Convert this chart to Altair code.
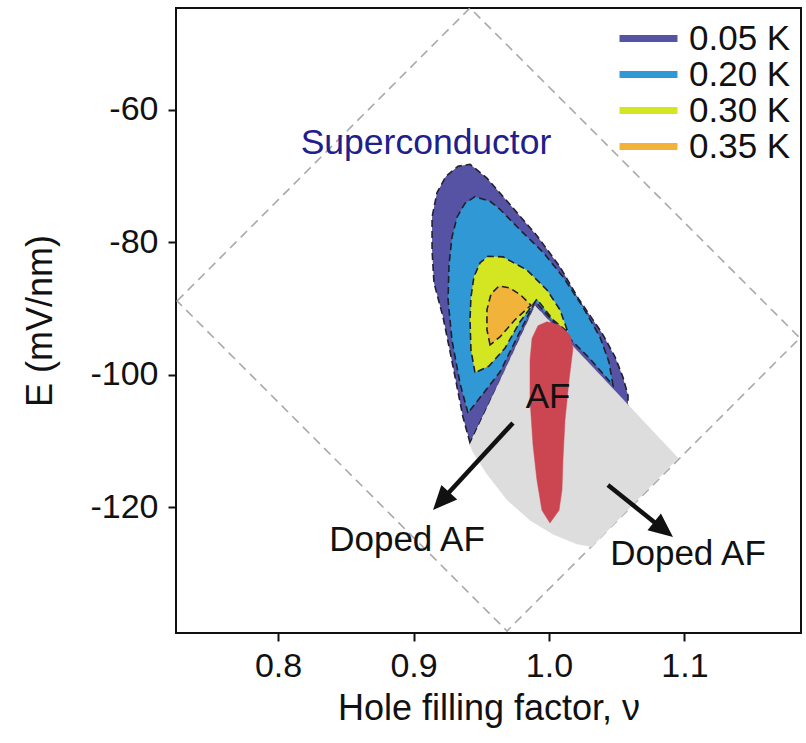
import altair as alt
import pandas as pd

# ---------------- data ----------------
levels = ["0.05 K", "0.20 K", "0.30 K", "0.35 K"]
level_colors = ["#5652a4", "#2f98d5", "#d3e621", "#f2b33a"]

nu_005 = [0.9417, 0.9365, 0.9292, 0.9218, 0.9151, 0.9137, 0.9137, 0.9173, 0.9240, 0.9328, 0.9417, 0.9542,
          0.9734, 0.9911, 1.0081, 1.0214, 1.0391, 1.0487, 1.0546, 1.0583, 1.0583, 1.0280, 0.9897, 0.9661]
E_005 = [-110.3, -106.4, -98.8, -91.3, -86.1, -81.2, -76.2, -72.5, -70.0, -68.5, -68.2, -70.3,
         -74.8, -79.0, -83.7, -88.4, -93.7, -97.3, -100.4, -103.1, -104.9, -98.1, -89.6, -100.0]

nu_020 = [0.9402, 0.9343, 0.9284, 0.9255, 0.9262, 0.9284, 0.9321, 0.9380, 0.9454, 0.9565, 0.9638,
          0.9786, 0.9956, 1.0103, 1.0251, 1.0376, 1.0443, 1.0472, 1.0303, 1.0081, 0.9897, 0.9638]
E_020 = [-105.8, -101.3, -94.8, -88.7, -83.4, -79.2, -76.2, -74.1, -73.1, -73.8, -75.0,
         -78.1, -81.5, -85.2, -89.8, -94.3, -98.1, -101.6, -97.6, -93.1, -88.9, -99.6]

nu_030 = [0.9454, 0.9424, 0.9417, 0.9424, 0.9446, 0.9491, 0.9550, 0.9661, 0.9838, 0.9985, 1.0081,
          1.0140, 1.0030, 0.9911, 0.9786, 0.9675, 0.9557]
E_030 = [-99.7, -96.3, -91.7, -88.3, -85.2, -83.1, -82.1, -82.2, -84.2, -87.2, -90.2,
         -93.6, -91.7, -88.6, -92.0, -96.0, -98.7]

nu_035 = [0.9565, 0.9542, 0.9542, 0.9572, 0.9631, 0.9712, 0.9793, 0.9867, 0.9749, 0.9638]
E_035 = [-95.5, -93.2, -90.2, -87.8, -86.6, -86.9, -88.0, -89.5, -91.7, -94.3]

# antiferromagnet / doped AF region (grey) and AF core (red)
nu_af = [0.9897, 0.9417, 0.9439, 0.9542, 0.9690, 0.9860, 1.0030, 1.0207, 1.0317, 1.0952]
E_af = [-89.6, -110.6, -111.7, -115.0, -118.9, -122.0, -124.1, -125.6, -126.0, -112.6]

nu_red = [0.9985, 1.0074, 1.0155, 1.0177, 1.0148, 1.0118, 1.0103, 1.0096, 1.0074, 1.0007, 0.9948,
          0.9911, 0.9882, 0.9860, 0.9860, 0.9875, 0.9919]
E_red = [-92.0, -92.5, -94.0, -96.0, -100.8, -106.9, -112.9, -117.4, -120.5, -122.4, -120.5,
         -115.9, -110.6, -103.8, -97.8, -94.5, -92.6]

# accessible gate region (dashed diamond)
nu_gate = [0.7255, 0.9417, 1.1852, 0.9690]
E_gate = [-88.87, -44.58, -94.46, -138.74]

# arrows: tail, shaft end, tip
arrow_left_nu = [0.9734, 0.9203]
arrow_left_E = [-107.3, -119.09]
arrow_left_tip = (0.9144, -120.45)
arrow_right_nu = [1.0435, 1.0849]
arrow_right_E = [-116.67, -123.47]
arrow_right_tip = (1.0915, -124.53)

labels_text = ["Superconductor", "AF", "Doped AF", "Doped AF"]
labels_nu = [0.9092, 0.9993, 0.8952, 1.1026]
labels_E = [-65.0, -103.4, -125.0, -127.1]

x_ticks = [0.8, 0.9, 1.0, 1.1]
y_ticks = [-60, -80, -100, -120]

# ---------------- tables ----------------
def poly(nu, E, name):
    return pd.DataFrame({"nu": nu, "E": E, "i": list(range(len(nu))), "level": name})

contours = pd.concat([
    poly(nu_005, E_005, levels[0]),
    poly(nu_020, E_020, levels[1]),
    poly(nu_030, E_030, levels[2]),
    poly(nu_035, E_035, levels[3]),
], ignore_index=True)

af_df = poly(nu_af, E_af, "AF")
red_df = poly(nu_red, E_red, "AFcore")
gate_df = poly(nu_gate, E_gate, "gate")
arrows_df = pd.concat([
    pd.DataFrame({"nu": arrow_left_nu, "E": arrow_left_E, "i": [0, 1], "a": "left"}),
    pd.DataFrame({"nu": arrow_right_nu, "E": arrow_right_E, "i": [0, 1], "a": "right"}),
], ignore_index=True)
tipL = pd.DataFrame({"nu": [arrow_left_tip[0]], "E": [arrow_left_tip[1]]})
tipR = pd.DataFrame({"nu": [arrow_right_tip[0]], "E": [arrow_right_tip[1]]})
text_df = pd.DataFrame({"t": labels_text, "nu": labels_nu, "E": labels_E})

FONT = "Liberation Sans"
xs = alt.Scale(domain=[0.7247, 1.186], nice=False, zero=False)
ys = alt.Scale(domain=[-139.04, -44.585], nice=False, zero=False)

X = alt.X("nu:Q", scale=xs, axis=alt.Axis(values=x_ticks, format=".1f", title="Hole filling factor, ν",
                                          titleFontSize=36, labelPadding=8, titlePadding=8))
Y = alt.Y("E:Q", scale=ys, axis=alt.Axis(values=y_ticks, labelExpr="toString(datum.value)",
                                          labelPadding=10,
                                          title="E (mV/nm)", titleFontSize=36,
                                          titleX=-136, titleY=312.5, titleAngle=270,
                                          titleAlign="center", titleBaseline="middle"))
O = alt.Order("i:Q")

gate = alt.Chart(gate_df).mark_line(
    interpolate="linear-closed", stroke="#a9a9a9", strokeDash=[9, 6], strokeWidth=1.6, clip=True
).encode(x=X, y=Y, order=O)

fill_scale = alt.Scale(domain=levels, range=level_colors)
legend = alt.Legend(
    title=None, orient="none", legendX=455, legendY=13,
    symbolType="M-2.07,-0.25H2.07V0.25H-2.07Z", symbolSize=784, symbolStrokeWidth=0,
    symbolOpacity=1, labelFont=FONT, labelFontSize=35, labelColor="#111111",
    labelOffset=23, rowPadding=0, padding=0,
)

layers = [gate]
for lv in levels:
    layers.append(
        alt.Chart(contours).transform_filter(alt.datum.level == lv).mark_line(
            interpolate="linear-closed", stroke="#20202e", strokeDash=[7, 4], strokeWidth=1.6,
            fillOpacity=1, clip=True
        ).encode(x=X, y=Y, order=O,
                 fill=alt.Fill("level:N", scale=fill_scale, legend=legend))
    )

af = alt.Chart(af_df).mark_line(
    interpolate="linear-closed", fill="#dddddd", stroke="#dddddd", strokeWidth=0.5, clip=True
).encode(x=X, y=Y, order=O)
red = alt.Chart(red_df).mark_line(
    interpolate="linear-closed", fill="#cc4652", stroke="#cc4652", strokeWidth=0.5, clip=True
).encode(x=X, y=Y, order=O)

shafts = alt.Chart(arrows_df).mark_line(stroke="#111111", strokeWidth=4.5).encode(
    x=X, y=Y, order=O, detail="a:N")
HEAD = "M0,0L0.85,1.9L-0.85,1.9Z"
headL = alt.Chart(tipL).mark_point(shape=HEAD, filled=True, size=640, color="#111111",
                                   opacity=1, strokeWidth=0, angle=222.6).encode(x=X, y=Y)
headR = alt.Chart(tipR).mark_point(shape=HEAD, filled=True, size=640, color="#111111",
                                   opacity=1, strokeWidth=0, angle=128.7).encode(x=X, y=Y)

sc_text = alt.Chart(text_df).transform_filter(alt.datum.t == "Superconductor").mark_text(
    font=FONT, fontSize=35.5, color="#20208c", align="center", baseline="middle"
).encode(x=X, y=Y, text="t:N")
af_text = alt.Chart(text_df).transform_filter(alt.datum.t == "AF").mark_text(
    font=FONT, fontSize=35, color="#111111", align="center", baseline="middle"
).encode(x=X, y=Y, text="t:N")
doped_text = alt.Chart(text_df).transform_filter(alt.datum.t == "Doped AF").mark_text(
    font=FONT, fontSize=35, color="#111111", align="center", baseline="middle"
).encode(x=X, y=Y, text="t:N")

layers += [af, red, shafts, headL, headR, sc_text, af_text, doped_text]

chart = alt.layer(*layers).properties(
    width=625, height=625,
    autosize=alt.AutoSizeParams(type="none"),
    padding={"left": 176, "top": 8, "right": 5, "bottom": 110},
    background="white",
).configure_view(
    stroke="#111111", strokeWidth=2
).configure_axis(
    grid=False, domain=False, ticks=True, tickSize=8, tickWidth=2, tickColor="#111111",
    labelFont=FONT, labelFontSize=34, labelColor="#111111",
    titleFont=FONT, titleFontWeight="normal", titleColor="#111111",
)

chart.save("out.html", embed_options={"renderer": "svg", "actions": False})
